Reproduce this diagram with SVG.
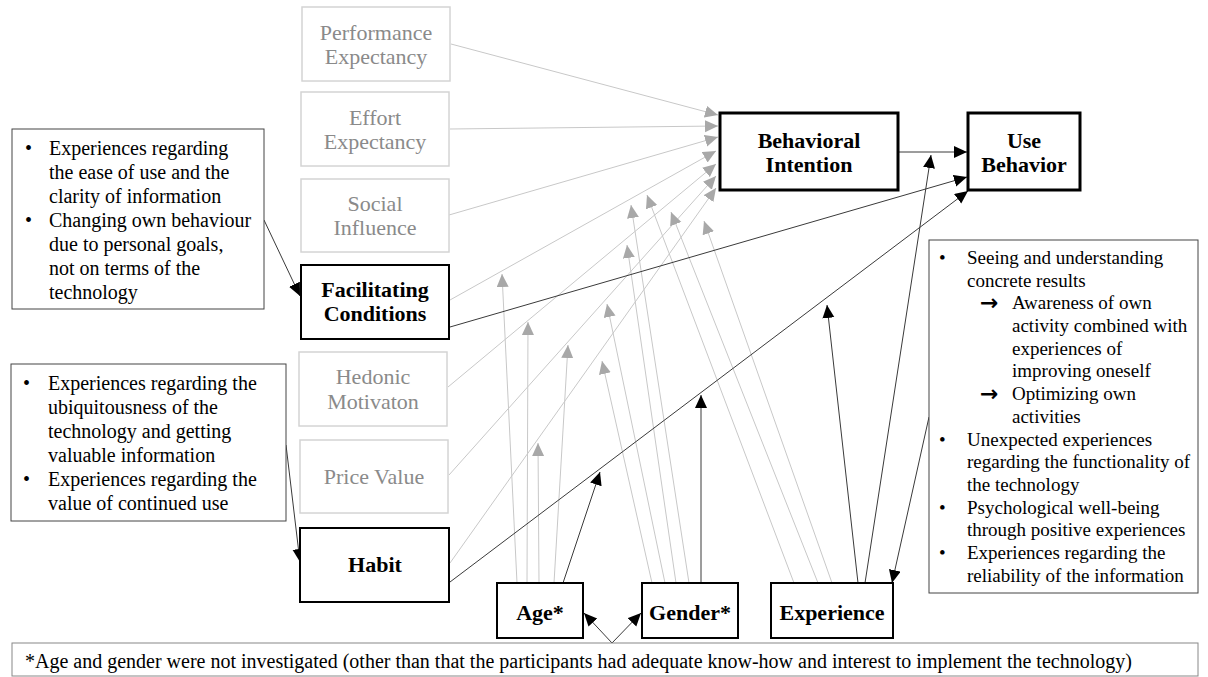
<svg xmlns="http://www.w3.org/2000/svg" width="1208" height="677" viewBox="0 0 1208 677">
<defs>
<marker id="ag" markerUnits="userSpaceOnUse" markerWidth="14" markerHeight="13" refX="13" refY="6" orient="auto"><path d="M0,0 L13,6 L0,12 z" fill="#a8a8a8"/></marker>
<marker id="ab" markerUnits="userSpaceOnUse" markerWidth="14" markerHeight="13" refX="13" refY="6" orient="auto"><path d="M0,0 L13,6 L0,12 z" fill="#000"/></marker>
<style>
text{font-family:"Liberation Serif","Times New Roman",serif;}
.gbox{fill:#fff;stroke:#d4d4d4;stroke-width:1.5;}
.gt{font-size:22px;fill:#8a8a8a;text-anchor:middle;}
.bbox{fill:#fff;stroke:#000;stroke-width:2;}
.bbox3{fill:#fff;stroke:#000;stroke-width:3;}
.bt{font-size:22px;font-weight:bold;fill:#000;text-anchor:middle;}
.tbox{fill:#fff;stroke:#444;stroke-width:1;}
.tt{font-size:20px;fill:#000;}
.rt{font-size:19px;fill:#000;}
.ar{font-size:22px;font-weight:bold;fill:#000;font-family:"DejaVu Sans",sans-serif;}
.gl{stroke:#c8c8c8;stroke-width:1;fill:none;marker-end:url(#ag);}
.bl{stroke:#3a3a3a;stroke-width:1;fill:none;marker-end:url(#ab);}
</style>
</defs>
<rect width="1208" height="677" fill="#fff"/>

<g id="connectors">
<line class="gl" x1="451" y1="44" x2="718" y2="115"/>
<line class="gl" x1="450" y1="129" x2="718" y2="126"/>
<line class="gl" x1="449" y1="215" x2="718" y2="137"/>
<line class="gl" x1="450" y1="300" x2="716" y2="151"/>
<line class="gl" x1="448" y1="387" x2="716" y2="164"/>
<line class="gl" x1="449" y1="475" x2="716" y2="176"/>
<line class="gl" x1="450" y1="563" x2="716" y2="188"/>
<line class="gl" x1="517" y1="583" x2="502" y2="274"/>
<line class="gl" x1="527" y1="583" x2="528" y2="322"/>
<line class="gl" x1="539" y1="583" x2="538" y2="443"/>
<line class="gl" x1="554" y1="583" x2="568" y2="345"/>
<line class="gl" x1="652" y1="583" x2="602" y2="361"/>
<line class="gl" x1="665" y1="583" x2="607" y2="304"/>
<line class="gl" x1="676" y1="583" x2="627" y2="245"/>
<line class="gl" x1="689" y1="583" x2="631" y2="205"/>
<line class="gl" x1="794" y1="583" x2="647" y2="195"/>
<line class="gl" x1="818" y1="583" x2="671" y2="212"/>
<line class="gl" x1="832" y1="583" x2="704" y2="221"/>
<line class="bl" x1="899" y1="152" x2="967" y2="152"/>
<line class="bl" x1="450" y1="327" x2="967" y2="177"/>
<line class="bl" x1="450" y1="582" x2="968" y2="191"/>
<line class="bl" x1="264" y1="220" x2="300" y2="296"/>
<line class="bl" x1="286" y1="445" x2="300" y2="562"/>
<line class="bl" x1="612" y1="643" x2="584" y2="613"/>
<line class="bl" x1="612" y1="643" x2="641" y2="613"/>
<line class="bl" x1="563" y1="583" x2="600" y2="472"/>
<line class="bl" x1="701" y1="583" x2="701" y2="395"/>
<line class="bl" x1="858" y1="583" x2="827" y2="305"/>
<line class="bl" x1="865" y1="583" x2="931" y2="155"/>
<line class="bl" x1="929" y1="417" x2="892" y2="583"/>
</g>

<g id="performance-expectancy"><rect class="gbox" x="302" y="7" width="148" height="74"/><text class="gt" x="376" y="40">Performance</text><text class="gt" x="376" y="64">Expectancy</text></g>
<g id="effort-expectancy"><rect class="gbox" x="301" y="92" width="148" height="74"/><text class="gt" x="375" y="125">Effort</text><text class="gt" x="375" y="149">Expectancy</text></g>
<g id="social-influence"><rect class="gbox" x="301" y="179" width="148" height="73"/><text class="gt" x="375" y="211">Social</text><text class="gt" x="375" y="235">Influence</text></g>
<g id="facilitating-conditions"><rect class="bbox" x="301" y="265" width="148" height="74"/><text class="bt" x="375" y="297">Facilitating</text><text class="bt" x="375" y="321">Conditions</text></g>
<g id="hedonic-motivation"><rect class="gbox" x="299" y="352" width="148" height="74"/><text class="gt" x="373" y="384">Hedonic</text><text class="gt" x="373" y="409">Motivaton</text></g>
<g id="price-value"><rect class="gbox" x="300" y="440" width="148" height="73"/><text class="gt" x="374" y="484">Price Value</text></g>
<g id="habit"><rect class="bbox" x="300" y="528" width="149" height="74"/><text class="bt" x="375" y="572">Habit</text></g>

<g id="behavioral-intention"><rect class="bbox3" x="720" y="113" width="178" height="77"/><text class="bt" x="809" y="148">Behavioral</text><text class="bt" x="809" y="172">Intention</text></g>
<g id="use-behavior"><rect class="bbox3" x="968" y="113" width="112" height="77"/><text class="bt" x="1024" y="148">Use</text><text class="bt" x="1024" y="172">Behavior</text></g>

<g id="age"><rect class="bbox" x="497" y="583" width="86" height="55"/><text class="bt" x="540" y="620">Age*</text></g>
<g id="gender"><rect class="bbox" x="642" y="583" width="96" height="55"/><text class="bt" x="690" y="620">Gender*</text></g>
<g id="experience"><rect class="bbox" x="771" y="583" width="122" height="55"/><text class="bt" x="832" y="620">Experience</text></g>

<g id="note-facilitating">
<rect class="tbox" x="12" y="129" width="252" height="180"/>
<text class="tt" x="25" y="155">•</text><text class="tt" x="49" y="155">Experiences regarding</text>
<text class="tt" x="49" y="179">the ease of use and the</text>
<text class="tt" x="49" y="203">clarity of information</text>
<text class="tt" x="25" y="227">•</text><text class="tt" x="49" y="227">Changing own behaviour</text>
<text class="tt" x="49" y="251">due to personal goals,</text>
<text class="tt" x="49" y="275">not on terms of the</text>
<text class="tt" x="49" y="299">technology</text>
</g>

<g id="note-habit">
<rect class="tbox" x="11" y="364" width="275" height="157"/>
<text class="tt" x="23" y="390">•</text><text class="tt" x="48" y="390">Experiences regarding the</text>
<text class="tt" x="48" y="414">ubiquitousness of the</text>
<text class="tt" x="48" y="438">technology and getting</text>
<text class="tt" x="48" y="462">valuable information</text>
<text class="tt" x="23" y="486">•</text><text class="tt" x="48" y="486">Experiences regarding the</text>
<text class="tt" x="48" y="510">value of continued use</text>
</g>

<g id="note-experience">
<rect class="tbox" x="929" y="240" width="269" height="353"/>
<text class="rt" x="939" y="264">•</text><text class="rt" x="967" y="264">Seeing and understanding</text>
<text class="rt" x="967" y="287">concrete results</text>
<text class="ar" x="980" y="310">→</text><text class="rt" x="1012" y="309">Awareness of own</text>
<text class="rt" x="1012" y="332">activity combined with</text>
<text class="rt" x="1012" y="355">experiences of</text>
<text class="rt" x="1012" y="377">improving oneself</text>
<text class="ar" x="980" y="401">→</text><text class="rt" x="1012" y="400">Optimizing own</text>
<text class="rt" x="1012" y="423">activities</text>
<text class="rt" x="939" y="446">•</text><text class="rt" x="967" y="446">Unexpected experiences</text>
<text class="rt" x="967" y="468">regarding the functionality of</text>
<text class="rt" x="967" y="491">the technology</text>
<text class="rt" x="939" y="514">•</text><text class="rt" x="967" y="514">Psychological well-being</text>
<text class="rt" x="967" y="536">through positive experiences</text>
<text class="rt" x="939" y="559">•</text><text class="rt" x="967" y="559">Experiences regarding the</text>
<text class="rt" x="967" y="582">reliability of the information</text>
</g>

<g id="footnote">
<rect x="12" y="643" width="1186" height="33" fill="#fff" stroke="#888" stroke-width="1"/>
<text class="tt" x="25" y="668">*Age and gender were not investigated (other than that the participants had adequate know-how and interest to implement the technology)</text>
</g>
</svg>
